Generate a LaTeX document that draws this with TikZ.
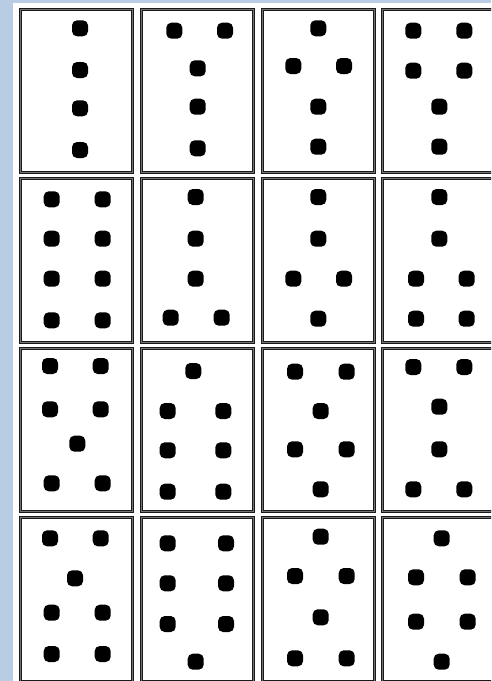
\documentclass[tikz,border=0pt]{standalone}
\definecolor{bgblue}{HTML}{B8CCE4}
\tikzset{
  cardbox/.style={draw=black!90, line width=1.1pt, double=black!55, double distance=0.8pt},
  pip/.style={fill=black, rounded corners=5pt},
}
\newcommand\pp[2]{\fill[pip] (#1-8,#2-8) rectangle (#1+8,#2+8);}
\newcommand\card[2]{\draw[cardbox] (#1,#2) rectangle (#1+112,#2+163.5);}
\begin{document}
\begin{tikzpicture}[x=1pt,y=-1pt]
\useasboundingbox (0,0) rectangle (491,681);
\clip (0,0) rectangle (491,681);
\fill[bgblue] (0,0) rectangle (491,681);
\fill[white] (13,3.3) rectangle (495,685);
% cards
\foreach \cx in {20.7,141.7,262.3,382.7}{
  \foreach \cy in {9,178.5,348,517.5}{
    \card{\cx}{\cy}
  }
}
% row 1
\pp{80}{28.3}\pp{80}{70}\pp{80}{108.3}\pp{80}{150}
\pp{174.3}{30.7}\pp{225}{30.7}\pp{197.7}{68.3}\pp{197.7}{106.7}\pp{197.7}{148.3}
\pp{318.3}{28.3}\pp{293.3}{66}\pp{344}{66}\pp{318.3}{106.7}\pp{318.3}{146.7}
\pp{413.3}{30.7}\pp{464.3}{30.7}\pp{413.3}{70.7}\pp{464.3}{70.7}\pp{439.3}{106.7}\pp{439.3}{146.7}
% row 2
\pp{51.7}{199.3}\pp{102.7}{199.3}\pp{51.7}{238.7}\pp{102.7}{238.7}
\pp{51.7}{278.7}\pp{102.7}{278.7}\pp{51.7}{320.3}\pp{102.7}{320.3}
\pp{195.7}{197}\pp{195.7}{238.7}\pp{195.7}{278.7}\pp{170.7}{317.7}\pp{221.7}{317.7}
\pp{318.3}{197}\pp{318.3}{238.7}\pp{293.3}{278.7}\pp{344}{278.7}\pp{318.3}{318.7}
\pp{439.3}{197}\pp{439.3}{238.7}\pp{416}{278.7}\pp{466.7}{278.7}\pp{416}{318.7}\pp{466.7}{318.7}
% row 3
\pp{50}{366}\pp{100.7}{366}\pp{50}{409.3}\pp{100.7}{409.3}\pp{77.3}{443.7}\pp{51.7}{483.3}\pp{102.7}{483.3}
\pp{193.3}{371}\pp{167.7}{411}\pp{223.3}{411}\pp{167.7}{450.3}\pp{223.3}{450.3}\pp{167.7}{491.7}\pp{223.3}{491.7}
\pp{295}{371.7}\pp{346.7}{371.7}\pp{320.7}{411}\pp{295}{449.3}\pp{346.7}{449.3}\pp{320.7}{489.3}
\pp{413.3}{367}\pp{464.3}{367}\pp{439.3}{406.7}\pp{439.3}{449.3}\pp{413.3}{489.3}\pp{464.3}{489.3}
% row 4
\pp{50}{538.3}\pp{100.7}{538.3}\pp{75}{578.3}\pp{51.7}{612.7}\pp{102.7}{612.7}\pp{51.7}{654}\pp{102.7}{654}
\pp{167.7}{543.3}\pp{226}{543.3}\pp{167.7}{583.3}\pp{226}{583.3}\pp{167.7}{624}\pp{226}{624}\pp{195.7}{661.7}
\pp{320.7}{536.7}\pp{295}{576}\pp{346.7}{576}\pp{320.7}{617.3}\pp{295}{658.3}\pp{346.7}{658.3}
\pp{441.7}{538.3}\pp{416}{577.3}\pp{467.7}{577.3}\pp{416}{621.7}\pp{467.7}{621.7}\pp{441.7}{661.7}
\end{tikzpicture}
\end{document}
